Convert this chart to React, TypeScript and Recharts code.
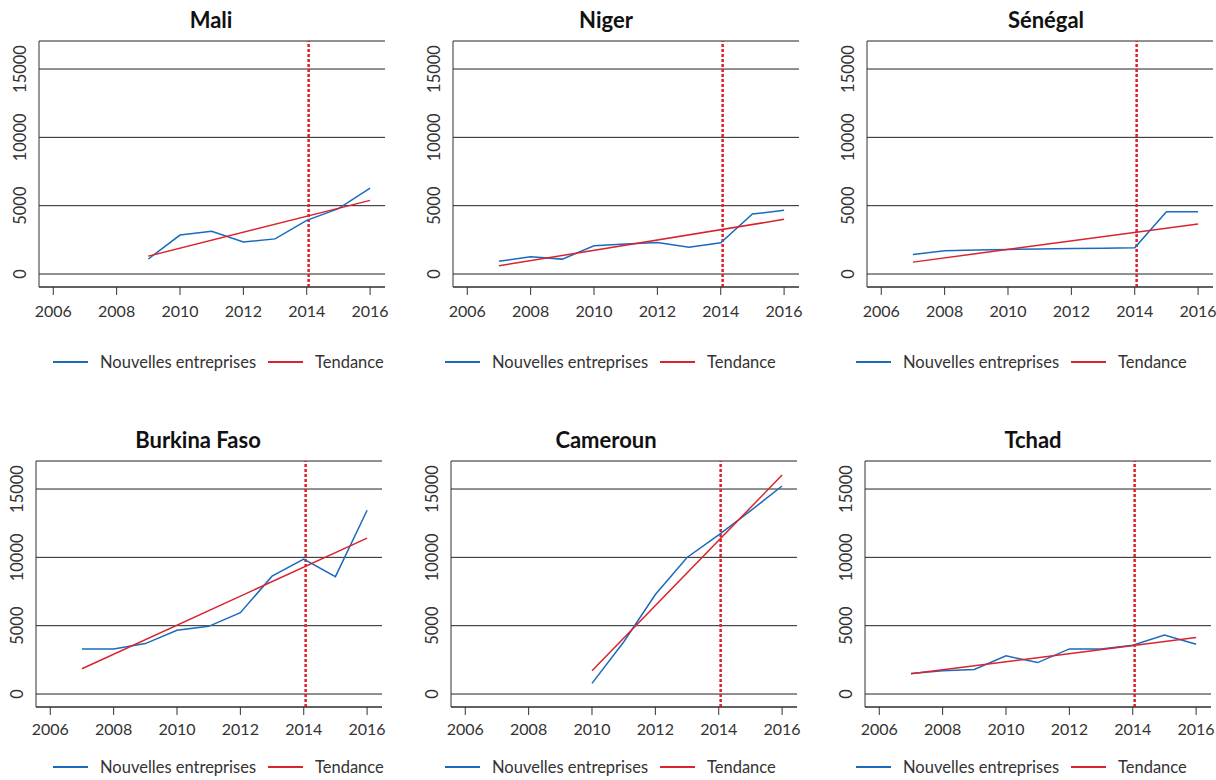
import React from 'react';
import { LineChart, Line, XAxis, YAxis, CartesianGrid, ReferenceLine } from 'recharts';

const xTicks = [2006, 2008, 2010, 2012, 2014, 2016];
const yTicks = [0, 5000, 10000, 15000];
const cutoffYear = 2014.06;

const maliYears = [2009, 2010, 2011, 2012, 2013, 2014, 2015, 2016];
const maliNew = [1100, 2850, 3130, 2350, 2570, 3930, 4780, 6280];
const maliTrendYears = [2009, 2016];
const maliTrend = [1310, 5390];

const nigerYears = [2007, 2008, 2009, 2010, 2011, 2012, 2013, 2014, 2015, 2016];
const nigerNew = [930, 1260, 1090, 2060, 2200, 2300, 1960, 2280, 4390, 4660];
const nigerTrendYears = [2007, 2016];
const nigerTrend = [600, 4000];

const senegalYears = [2007, 2008, 2009, 2010, 2011, 2012, 2013, 2014, 2015, 2016];
const senegalNew = [1430, 1700, 1760, 1800, 1830, 1860, 1890, 1920, 4560, 4560];
const senegalTrendYears = [2007, 2016];
const senegalTrend = [870, 3660];

const burkinaYears = [2007, 2008, 2009, 2010, 2011, 2012, 2013, 2014, 2015, 2016];
const burkinaNew = [3300, 3300, 3690, 4660, 4950, 5950, 8620, 9880, 8590, 13450];
const burkinaTrendYears = [2007, 2016];
const burkinaTrend = [1850, 11410];

const camerounYears = [2010, 2011, 2012, 2013, 2014, 2015, 2016];
const camerounNew = [780, 3810, 7280, 9990, 11650, 13400, 15220];
const camerounTrendYears = [2010, 2016];
const camerounTrend = [1700, 16020];

const tchadYears = [2007, 2008, 2009, 2010, 2011, 2012, 2013, 2014, 2015, 2016];
const tchadNew = [1500, 1700, 1800, 2790, 2300, 3300, 3300, 3570, 4320, 3640];
const tchadTrendYears = [2007, 2016];
const tchadTrend = [1480, 4130];

const BLUE = '#1a6bbd';
const RED = '#d9232e';
const INK = '#333';
const FONT = 'Lato, "Noto Sans", sans-serif';

const zip = (xs: number[], ys: number[]) => xs.map((year, i) => ({ year, value: ys[i] }));

const rows = [
  { chartTop: 0, titleY: 20, legendY: 362, tickMargin: 11 },
  { chartTop: 420, titleY: 440, legendY: 767, tickMargin: 9 },
];

const panels = [
  { title: 'Mali', years: maliYears, values: maliNew, trendYears: maliTrendYears, trend: maliTrend, row: 0, axisX: 39, titleX: 211, legendX: 53 },
  { title: 'Niger', years: nigerYears, values: nigerNew, trendYears: nigerTrendYears, trend: nigerTrend, row: 0, axisX: 453, titleX: 606, legendX: 445 },
  { title: 'Sénégal', years: senegalYears, values: senegalNew, trendYears: senegalTrendYears, trend: senegalTrend, row: 0, axisX: 867, titleX: 1046, legendX: 856 },
  { title: 'Burkina Faso', years: burkinaYears, values: burkinaNew, trendYears: burkinaTrendYears, trend: burkinaTrend, row: 1, axisX: 36, titleX: 198, legendX: 53 },
  { title: 'Cameroun', years: camerounYears, values: camerounNew, trendYears: camerounTrendYears, trend: camerounTrend, row: 1, axisX: 451, titleX: 606, legendX: 445 },
  { title: 'Tchad', years: tchadYears, values: tchadNew, trendYears: tchadTrendYears, trend: tchadTrend, row: 1, axisX: 865, titleX: 1033, legendX: 856 },
];

const YTick = (props: any) => {
  const { x, y, payload } = props;
  const tx = x - 19;
  return (
    <text
      x={tx}
      y={y}
      transform={`rotate(-90, ${tx}, ${y})`}
      textAnchor="middle"
      dominantBaseline="central"
      fill={INK}
      fontSize={16.5}
      fontFamily={FONT}
    >
      {payload.value}
    </text>
  );
};

function LegendItem({ left, top, color, label }: { left: number; top: number; color: string; label: string }) {
  return (
    <div style={{ position: 'absolute', left, top: top - 11, height: 22, display: 'flex', alignItems: 'center' }}>
      <div style={{ width: 35, height: 2.5, background: color }} />
      <span style={{ marginLeft: 12, fontSize: 16.5, color: INK, fontFamily: FONT, whiteSpace: 'nowrap' }}>{label}</span>
    </div>
  );
}

function Panel({ p }: { p: (typeof panels)[number] }) {
  const row = rows[p.row];
  const yAxisWidth = 36;
  return (
    <>
      <div
        style={{
          position: 'absolute',
          left: p.titleX - 100,
          top: row.titleY - 14,
          width: 200,
          height: 28,
          lineHeight: '28px',
          textAlign: 'center',
          fontFamily: FONT,
          fontWeight: 700,
          fontSize: 22,
          color: '#111',
        }}
      >
        {p.title}
      </div>
      <div style={{ position: 'absolute', left: p.axisX - yAxisWidth, top: row.chartTop }}>
        <LineChart width={yAxisWidth + 346 + 4} height={41 + 246 + 40} margin={{ top: 41, right: 4, bottom: 0, left: 0 }}>
          <CartesianGrid vertical={false} stroke="#222" strokeWidth={1} />
          <XAxis
            type="number"
            dataKey="year"
            domain={[2005.55, 2016.47]}
            ticks={xTicks}
            allowDataOverflow
            height={40}
            stroke={INK}
            tickSize={8}
            tickMargin={row.tickMargin}
            tick={{ fill: INK, fontSize: 16, fontFamily: FONT }}
          />
          <YAxis
            type="number"
            domain={[-950, 17050]}
            ticks={yTicks}
            allowDataOverflow
            width={yAxisWidth}
            stroke={INK}
            tickLine={false}
            tickSize={0}
            tickMargin={0}
            tick={<YTick />}
          />
          <ReferenceLine x={cutoffYear} stroke="#e0202a" strokeWidth={2.5} strokeDasharray="3 2" />
          <Line
            data={zip(p.years, p.values)}
            dataKey="value"
            type="linear"
            stroke={BLUE}
            strokeWidth={1.5}
            dot={false}
            isAnimationActive={false}
            name="Nouvelles entreprises"
          />
          <Line
            data={zip(p.trendYears, p.trend)}
            dataKey="value"
            type="linear"
            stroke={RED}
            strokeWidth={1.5}
            dot={false}
            isAnimationActive={false}
            name="Tendance"
          />
        </LineChart>
      </div>
      <LegendItem left={p.legendX} top={row.legendY} color={BLUE} label="Nouvelles entreprises" />
      <LegendItem left={p.legendX + 215} top={row.legendY} color={RED} label="Tendance" />
    </>
  );
}

export default function App() {
  return (
    <div style={{ position: 'absolute', left: 0, top: 0, width: 1216, height: 780, background: '#fff', overflow: 'hidden' }}>
      {panels.map((p) => (
        <Panel key={p.title} p={p} />
      ))}
    </div>
  );
}
